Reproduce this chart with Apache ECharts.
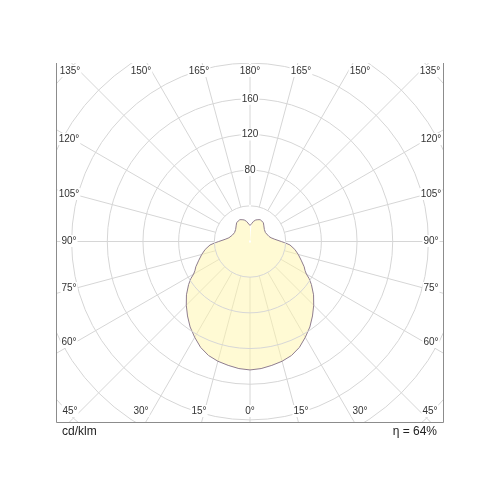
<!DOCTYPE html>
<html lang="en">
<head>
  <meta charset="UTF-8">
  <script src="https://cdn.jsdelivr.net/npm/echarts@6/dist/echarts.min.js"></script>
  <title>LDC</title>
</head>
<body style="margin:0">
  <div id="ldc" style="width: 500px; height: 500px"></div>
  <script>
    // gamma angle from nadir (deg) and intensity in cd/klm, symmetric curve
    const gammaAngles = [0, 5, 10, 15, 20, 25, 30, 35, 40, 45, 50, 55, 58, 60, 62, 65, 70, 75, 80, 85, 88, 90, 95, 100, 105, 110, 120, 130, 140, 145, 150, 155, 160, 165, 170, 175, 180]
    const intensity = [144, 143, 141, 139, 136, 131, 124, 117, 109, 101, 93, 84, 78, 73, 70, 67, 61, 56, 51, 45, 39, 35, 28, 24, 22, 21, 20, 21, 24, 26, 27, 27, 26, 25, 23, 20, 18]
    const radiusTicks = [40, 80, 120, 160, 200, 240, 280, 320]
    const radiusLabels = [80, 120, 160]
    const spokeAngles = [0, 15, 30, 45, 60, 75, 90, 105, 120, 135, 150, 165, 180, 195, 210, 225, 240, 255, 270, 285, 300, 315, 330, 345]
    const topLabels = ['135°', '150°', '165°', '180°', '165°', '150°', '135°']
    const sideLabels = ['120°', '105°', '90°', '75°', '60°']
    const bottomLabels = ['45°', '30°', '15°', '0°', '15°', '30°', '45°']
    const unitText = 'cd/klm'
    const efficiencyText = 'η = 64%'

    // layout
    const cx = 250, cy = 241.5
    const pxPerUnit = 0.892
    const frame = { left: 56.5, right: 443.5, top: 63, bottom: 422.5 }
    const rowX = [70, 141, 199, 250, 301, 360, 430]
    const sideY = [139, 194, 241, 288, 342]
    const gridColor = '#d6d6d6'
    const font = 'Liberation Sans'

    const chart = echarts.init(document.getElementById('ldc'))

    // left half goes from top (0) to bottom (180), right half from bottom to top (360)
    const curve = []
    for (let i = gammaAngles.length - 1; i >= 0; i--) {
      curve.push([intensity[i], 180 - gammaAngles[i]])
    }
    for (let i = 1; i < gammaAngles.length; i++) {
      curve.push([intensity[i], 180 + gammaAngles[i]])
    }

    const spokeSeries = spokeAngles.map((a) => ({
      type: 'line',
      coordinateSystem: 'polar',
      silent: true,
      showSymbol: false,
      z: 1,
      lineStyle: { color: gridColor, width: 1 },
      data: [[radiusTicks[0], a], [radiusTicks[radiusTicks.length - 1], a]]
    }))

    const labelStyle = (text, x, y) => ({
      type: 'text',
      z: 110,
      x: x,
      y: y,
      style: {
        text: text,
        fill: '#333',
        font: '10px "' + font + '"',
        align: 'center',
        verticalAlign: 'middle',
        backgroundColor: '#fff',
        padding: [1, 1]
      }
    })

    const graphics = [
      { type: 'rect', z: 100, shape: { x: 0, y: 0, width: 500, height: frame.top }, style: { fill: '#fff' } },
      { type: 'rect', z: 100, shape: { x: 0, y: 0, width: frame.left, height: 500 }, style: { fill: '#fff' } },
      { type: 'rect', z: 100, shape: { x: frame.right, y: 0, width: 500 - frame.right, height: 500 }, style: { fill: '#fff' } },
      { type: 'rect', z: 100, shape: { x: 0, y: frame.bottom, width: 500, height: 500 - frame.bottom }, style: { fill: '#fff' } },
      { type: 'polyline', z: 105, shape: { points: [[frame.left, frame.top], [frame.left, frame.bottom], [frame.right, frame.bottom], [frame.right, frame.top]] }, style: { stroke: '#8c8c8c', lineWidth: 1, fill: null } }
    ]
    topLabels.forEach((t, i) => graphics.push(labelStyle(t, rowX[i], 71)))
    bottomLabels.forEach((t, i) => graphics.push(labelStyle(t, rowX[i], 411)))
    sideLabels.forEach((t, i) => {
      graphics.push(labelStyle(t, 69, sideY[i]))
      graphics.push(labelStyle(t, 431, sideY[i]))
    })
    graphics.push({ type: 'text', z: 110, x: 62, y: 432, style: { text: unitText, fill: '#222', font: '12px "' + font + '"', align: 'left', verticalAlign: 'middle' } })
    graphics.push({ type: 'text', z: 110, x: 437, y: 432, style: { text: efficiencyText, fill: '#222', font: '12px "' + font + '"', align: 'right', verticalAlign: 'middle' } })

    chart.setOption({
      animation: false,
      polar: {
        center: [cx, cy],
        radius: radiusTicks[radiusTicks.length - 1] * pxPerUnit
      },
      angleAxis: {
        type: 'value',
        min: 0,
        max: 360,
        startAngle: 90,
        clockwise: false,
        axisLine: { show: false },
        axisTick: { show: false },
        axisLabel: { show: false },
        splitLine: { show: false }
      },
      radiusAxis: {
        type: 'value',
        min: 0,
        max: radiusTicks[radiusTicks.length - 1],
        interval: 40,
        z: 3,
        axisLine: { show: false },
        axisTick: { show: false },
        splitLine: { show: true, lineStyle: { color: gridColor, width: 1 } },
        axisLabel: {
          margin: 0,
          align: 'center',
          verticalAlign: 'middle',
          color: '#333',
          fontSize: 10,
          fontFamily: font,
          backgroundColor: '#fff',
          padding: [1, 1],
          formatter: (v) => radiusLabels.indexOf(v) >= 0 ? String(v) : ''
        }
      },
      series: spokeSeries.concat([{
        type: 'line',
        coordinateSystem: 'polar',
        silent: true,
        showSymbol: false,
        smooth: false,
        z: 2,
        lineStyle: { color: '#8e7c8e', width: 1 },
        areaStyle: { color: 'rgba(255, 245, 170, 0.72)' },
        data: curve
      }]),
      graphic: graphics
    })
  </script>
</body>
</html>
